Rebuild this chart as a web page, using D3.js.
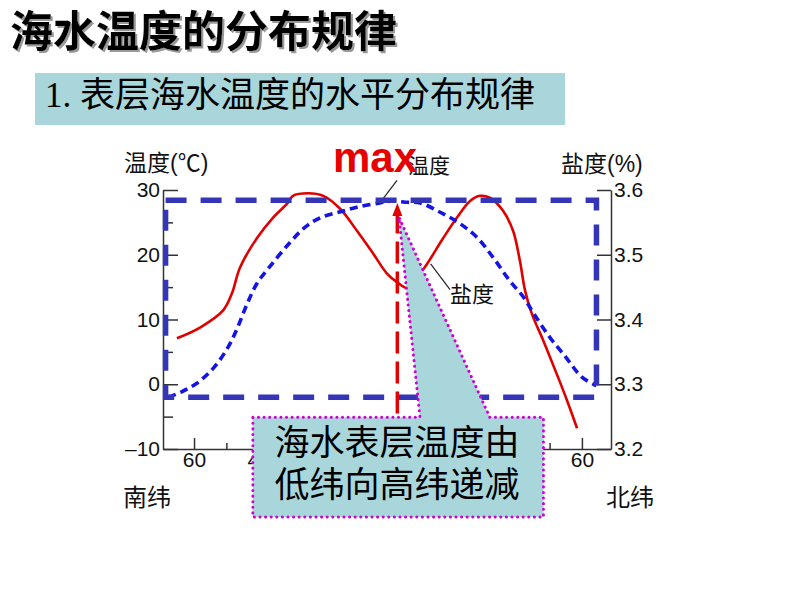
<!DOCTYPE html>
<html>
<head>
<meta charset="utf-8">
<script src="https://cdn.jsdelivr.net/npm/d3@7"></script>
<style>
  body { margin: 0; background: #fff; }
  svg { display: block; }
  .axis path, .axis line { stroke: #333; stroke-width: 1.5; }
  .axis text { font-family: "Liberation Sans", Arial, sans-serif; font-size: 21px; fill: #111; }
  .cjk { font-family: "Noto Sans CJK SC", sans-serif; }
</style>
</head>
<body>
<svg id="chart" width="794" height="596"></svg>
<script>
// temperature (blue dashed, left axis) - latitude, negative = south
var tempLat = [-68, -64, -59, -54, -49.5, -46.5, -43.5, -40.5, -36.5, -31, -26, -21, -15, -9, -2.5, 1.5, 6, 10, 16, 22, 27.5, 32.5, 37.5, 42, 45, 50, 55, 60, 64.5];
var tempVal = [-2.0, -1.2, 0.2, 2.5, 5.7, 8.8, 12.5, 15.6, 18.2, 21.5, 24.1, 25.7, 26.6, 27.4, 28.0, 28.3, 28.1, 28.0, 26.6, 24.9, 22.7, 19.6, 16.1, 13.4, 11.0, 7.3, 4.2, 1.1, -0.2];

// salinity (red, right axis)
var salLat = [-65.3, -58, -51, -48.3, -45.8, -40.5, -35.6, -31, -29.4, -24.7, -20, -14.8, -9.6, -4.6, -0.3, 3, 6, 11, 17, 21.3, 25.4, 28.5, 31.5, 35.6, 38.7, 40.8, 42.4, 44.5, 48, 52.6, 55.4, 58.5];
var salVal = [3.371, 3.388, 3.414, 3.440, 3.480, 3.526, 3.557, 3.580, 3.591, 3.595, 3.591, 3.571, 3.537, 3.502, 3.471, 3.457, 3.449, 3.478, 3.525, 3.557, 3.583, 3.591, 3.588, 3.568, 3.537, 3.491, 3.445, 3.409, 3.368, 3.311, 3.275, 3.232];

var tempTicks = [-10, 0, 10, 20, 30];
var tempMinor = [-5, 5, 15, 25];
var salTicks = [3.2, 3.3, 3.4, 3.5, 3.6];
var latTicks = [-60, -40, -20, 0, 20, 40, 60];
var latLabels = [-60, -40, 60];   // the rest sit behind the callout box
var latMinor = [-50, -30, -10, 10, 30, 50];

var svg = d3.select("#chart");

var x = d3.scaleLinear().domain([-69.6, 69]).range([163, 611]);
var yT = d3.scaleLinear().domain([-10, 30]).range([449, 190]);
var yS = d3.scaleLinear().domain([3.2, 3.6]).range([449, 190]);

// shadow for title
svg.append("defs").append("filter").attr("id", "shadow")
   .append("feDropShadow").attr("dx", 2).attr("dy", 2).attr("stdDeviation", 0.4)
   .attr("flood-color", "#999").attr("flood-opacity", 1);

svg.append("text").attr("class", "cjk").attr("x", 10).attr("y", 47)
   .attr("font-size", 43).attr("font-weight", "bold").attr("fill", "#000")
   .attr("filter", "url(#shadow)").text("海水温度的分布规律");

// subtitle box
svg.append("rect").attr("x", 35).attr("y", 73).attr("width", 530).attr("height", 52).attr("fill", "#a9d6da");
var sub = svg.append("text").attr("y", 107).attr("font-size", 35).attr("fill", "#000");
sub.append("tspan").attr("x", 45).attr("font-family", "Liberation Serif, serif").text("1.");
sub.append("tspan").attr("x", 80).attr("class", "cjk").text("表层海水温度的水平分布规律");

// axes - ticks point inward
svg.append("g").attr("class", "axis").attr("transform", "translate(163,0)")
   .call(d3.axisLeft(yT).tickValues(tempTicks).tickSize(-15).tickSizeOuter(0).tickPadding(3)
      .tickFormat(function(d){ return d < 0 ? "\u2013" + Math.abs(d) : d; }));
svg.append("g").attr("class", "axis").attr("transform", "translate(163,0)")
   .call(d3.axisLeft(yT).tickValues(tempMinor).tickSize(-10).tickSizeOuter(0).tickFormat(""))
   .select(".domain").remove();
svg.append("g").attr("class", "axis").attr("transform", "translate(611,0)")
   .call(d3.axisRight(yS).tickValues(salTicks).tickSize(-14).tickSizeOuter(0).tickPadding(3).tickFormat(d3.format(".1f")));
svg.append("g").attr("class", "axis").attr("transform", "translate(0,449)")
   .call(d3.axisBottom(x).tickValues(latTicks).tickSize(-11).tickSizeOuter(0).tickPadding(3)
      .tickFormat(function(d){ return latLabels.indexOf(d) >= 0 ? Math.abs(d) : ""; }));
svg.append("g").attr("class", "axis").attr("transform", "translate(0,449)")
   .call(d3.axisBottom(x).tickValues(latMinor).tickSize(-6).tickSizeOuter(0).tickFormat(""))
   .select(".domain").remove();

// axis titles
svg.append("text").attr("x", 124).attr("y", 171).attr("font-size", 23).attr("fill", "#111")
   .attr("font-family", "Liberation Sans, Noto Sans CJK SC, sans-serif").text("温度(℃)");
svg.append("text").attr("x", 561).attr("y", 172).attr("font-size", 23).attr("fill", "#111")
   .attr("font-family", "Liberation Sans, Noto Sans CJK SC, sans-serif").text("盐度(%)");
svg.append("text").attr("class", "cjk").attr("x", 123).attr("y", 506).attr("font-size", 24).attr("fill", "#111").text("南纬");
svg.append("text").attr("class", "cjk").attr("x", 606).attr("y", 506).attr("font-size", 24).attr("fill", "#111").text("北纬");

// curves
var tempLine = d3.line().curve(d3.curveCatmullRom)
   .x(function(d){ return x(d[0]); }).y(function(d){ return yT(d[1]); });
var salLine = d3.line().curve(d3.curveCatmullRom)
   .x(function(d){ return x(d[0]); }).y(function(d){ return yS(d[1]); });

svg.append("path").datum(salLat.map(function(d, i){ return [d, salVal[i]]; }))
   .attr("d", salLine).attr("fill", "none").attr("stroke", "#e00000").attr("stroke-width", 2.6);
svg.append("path").datum(tempLat.map(function(d, i){ return [d, tempVal[i]]; }))
   .attr("d", tempLine).attr("fill", "none").attr("stroke", "#1414e6").attr("stroke-width", 3.6)
   .attr("stroke-dasharray", "8,5");

// leader lines + labels
svg.append("line").attr("x1", x(-2.5)).attr("y1", yT(28.0)).attr("x2", x(2.8)).attr("y2", yT(31.5))
   .attr("stroke", "#222").attr("stroke-width", 1.2);
svg.append("text").attr("class", "cjk").attr("x", x(6.2)).attr("y", yT(32.6)).attr("font-size", 21).attr("fill", "#111").text("温度");
svg.append("line").attr("x1", x(13.2)).attr("y1", yS(3.486)).attr("x2", x(19.2)).attr("y2", yS(3.446))
   .attr("stroke", "#222").attr("stroke-width", 1.2);
svg.append("text").attr("class", "cjk").attr("x", x(19.2)).attr("y", yS(3.427)).attr("font-size", 22).attr("fill", "#111").text("盐度");

// thick dashed box around temperature range
svg.append("rect").attr("x", x(-68.8)).attr("y", yT(28.4))
   .attr("width", x(64.5) - x(-68.8)).attr("height", yT(-2.0) - yT(28.4))
   .attr("fill", "none").attr("stroke", "#3535b8").attr("stroke-width", 5.5).attr("stroke-dasharray", "21,14");

// red dashed arrow to maximum
var arrowLat = 2.9;
svg.append("line").attr("x1", x(arrowLat)).attr("x2", x(arrowLat)).attr("y1", yT(-4.5)).attr("y2", yT(26.2))
   .attr("stroke", "#e00000").attr("stroke-width", 3.5).attr("stroke-dasharray", "22,8");
svg.append("path")
   .attr("d", "M" + x(arrowLat) + "," + yT(28.0) + "L" + (x(arrowLat) - 5) + "," + yT(26.0) + "L" + (x(arrowLat) + 5) + "," + yT(26.0) + "Z")
   .attr("fill", "#e00000");
svg.append("text").attr("x", 333).attr("y", 172).attr("font-family", "Liberation Sans, Arial, sans-serif")
   .attr("font-size", 42).attr("font-weight", "bold").attr("fill", "#e60000").text("max");

// callout
var bL = x(-41.8), bR = x(48.1), bT = yT(-5.1), bB = yT(-20.5);
var pts = [[bL, bT], [x(9.9), bT], [x(3.4), yT(25.8)], [x(31.5), bT], [bR, bT], [bR, bB], [bL, bB]];
svg.append("path").attr("d", "M" + pts.join("L") + "Z")
   .attr("fill", "#a9d6da").attr("stroke", "#d000d0").attr("stroke-width", 3)
   .attr("stroke-dasharray", "0.1,5.5").attr("stroke-linecap", "round");
svg.append("text").attr("class", "cjk").attr("x", 397).attr("y", 455).attr("text-anchor", "middle")
   .attr("font-size", 35).attr("fill", "#000").text("海水表层温度由");
svg.append("text").attr("class", "cjk").attr("x", 397).attr("y", 497).attr("text-anchor", "middle")
   .attr("font-size", 35).attr("fill", "#000").text("低纬向高纬递减");
</script>
</body>
</html>
